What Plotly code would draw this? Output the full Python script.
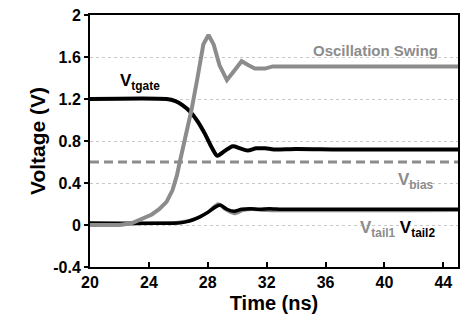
import plotly.graph_objects as go

# ---- data ----
t_osc = [20, 22, 22.9, 24.2, 24.7, 25.2, 25.6, 25.9, 26.1, 26.5, 26.9, 27.3, 27.7, 28.05, 28.4, 28.8,
         29.3, 29.8, 30.3, 30.8, 31.2, 31.9, 32.4, 45]
v_osc = [0, 0, 0.02, 0.1, 0.15, 0.22, 0.33, 0.47, 0.6, 0.85, 1.1, 1.4, 1.72, 1.81, 1.72, 1.52,
         1.38, 1.47, 1.56, 1.52, 1.49, 1.49, 1.51, 1.51]

t_tgate = [20, 25.2, 25.8, 26.3, 26.8, 27.3, 27.8, 28.3, 28.65, 29.1, 29.7, 30.2, 30.7, 31.3,
           31.9, 32.5, 34, 37, 41, 45]
v_tgate = [1.2, 1.2, 1.18, 1.14, 1.08, 0.99, 0.87, 0.73, 0.66, 0.70, 0.75, 0.73, 0.71, 0.73,
           0.73, 0.72, 0.725, 0.72, 0.72, 0.72]

t_bias = [20, 45]
v_bias = [0.6, 0.6]

t_tail1 = [20, 22, 23.5, 26, 27, 28, 28.7, 29.2, 29.8, 30.4, 31, 32, 45]
v_tail1 = [0.0, 0.005, 0.015, 0.025, 0.05, 0.12, 0.2, 0.15, 0.11, 0.14, 0.15, 0.14, 0.14]

t_tail2 = [20, 26.0, 26.5, 27.0, 27.5, 28.0, 28.5, 28.85, 29.3, 29.8, 30.3, 30.9, 31.5, 32.2,
           33, 35, 45]
v_tail2 = [0.02, 0.02, 0.03, 0.05, 0.08, 0.12, 0.17, 0.19, 0.15, 0.13, 0.15, 0.155, 0.15, 0.155,
           0.15, 0.15, 0.15]

x_ticks = [20, 24, 28, 32, 36, 40, 44]
y_ticks = [-0.4, 0, 0.4, 0.8, 1.2, 1.6, 2]
y_ticktext = ["-0.4", "0", "0.4", "0.8", "1.2", "1.6", "2"]

GRAY = "#8c8c8c"
FONT = "Liberation Sans, Arial, sans-serif"

fig = go.Figure()
fig.add_trace(go.Scatter(x=t_bias, y=v_bias, mode="lines",
                         line=dict(color=GRAY, width=3, dash="9px,5px")))
fig.add_trace(go.Scatter(x=t_tgate, y=v_tgate, mode="lines",
                         line=dict(color="black", width=4, shape="spline", smoothing=0.8)))
fig.add_trace(go.Scatter(x=t_tail1, y=v_tail1, mode="lines",
                         line=dict(color=GRAY, width=3.5, shape="spline", smoothing=0.6)))
fig.add_trace(go.Scatter(x=t_tail2, y=v_tail2, mode="lines",
                         line=dict(color="black", width=3.5, shape="spline", smoothing=0.6)))
fig.add_trace(go.Scatter(x=t_osc, y=v_osc, mode="lines",
                         line=dict(color=GRAY, width=4)))

fig.add_annotation(x=21.9, y=1.36, xanchor="left", yanchor="middle", showarrow=False,
                   text="<b>V<sub>tgate</sub></b>", font=dict(family=FONT, size=17, color="black"))
fig.add_annotation(x=43.8, y=1.66, xanchor="right", yanchor="middle", showarrow=False,
                   text="<b>Oscillation Swing</b>", font=dict(family=FONT, size=15, color=GRAY))
fig.add_annotation(x=43.5, y=0.42, xanchor="right", yanchor="middle", showarrow=False,
                   text="<b>V<sub>bias</sub></b>", font=dict(family=FONT, size=17, color=GRAY))
fig.add_annotation(x=43.6, y=-0.04, xanchor="right", yanchor="middle", showarrow=False,
                   text="<b><span style='color:%s'>V<sub>tail1</sub></span> V<sub>tail2</sub></b>" % GRAY,
                   font=dict(family=FONT, size=17, color="black"))

fig.update_layout(
    width=467, height=326,
    margin=dict(l=90, r=7, t=10, b=59),
    paper_bgcolor="white", plot_bgcolor="white",
    showlegend=False,
    font=dict(family=FONT, color="black"),
)
fig.update_xaxes(
    range=[20, 45], tickvals=x_ticks, ticktext=["<b>%d</b>" % v for v in x_ticks],
    ticks="inside", ticklen=5, tickwidth=2, tickcolor="black",
    showline=True, linecolor="black", linewidth=2, mirror=True,
    showgrid=False, zeroline=False,
    tickfont=dict(family=FONT, size=16, color="black"),
    title=dict(text="<b>Time (ns)</b>", font=dict(family=FONT, size=20, color="black"), standoff=6),
)
fig.update_yaxes(
    range=[-0.4, 2], tickvals=y_ticks, ticktext=["<b>%s</b>" % s for s in y_ticktext],
    ticks="outside", ticklen=4, tickwidth=2, tickcolor="black",
    showline=True, linecolor="black", linewidth=2, mirror=True,
    showgrid=True, gridcolor="#c8c8c8", gridwidth=1, griddash="dot", zeroline=False,
    tickfont=dict(family=FONT, size=16, color="black"),
    title=dict(text="<b>Voltage (V)</b>", font=dict(family=FONT, size=21, color="black"), standoff=2),
)

fig.write_html("out.html")
